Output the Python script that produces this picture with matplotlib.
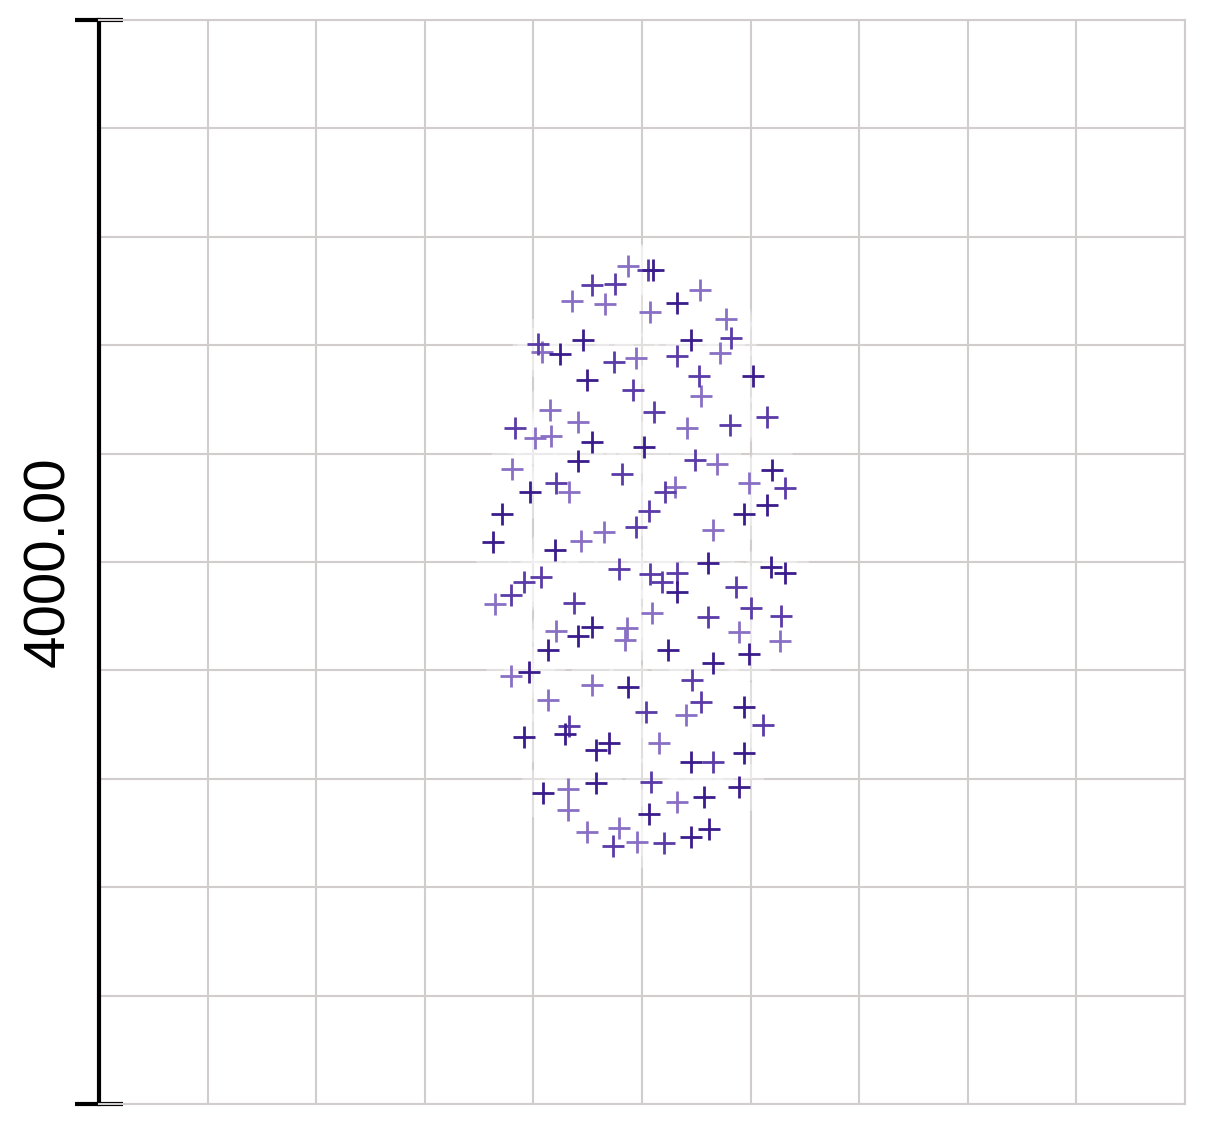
import numpy as np
import matplotlib
matplotlib.use("Agg")
import matplotlib.pyplot as plt
from matplotlib.ticker import MultipleLocator

# scatter values (x in grid units 0-10, y in 0-8000)
x_dark = [4.457, 4.245, 4.494, 4.540, 5.101, 5.322, 5.451, 6.022, 5.018, 4.411,
          3.969, 3.711, 3.628, 4.199, 4.411, 4.540, 4.134, 6.197, 6.151, 5.939,
          5.608, 5.322, 6.188, 6.317, 5.239, 5.985, 3.959, 4.871, 3.913, 4.291,
          4.576, 4.696, 4.088, 4.576, 5.654, 5.939, 5.451, 5.939, 5.571, 5.893,
          5.064, 5.451, 5.617]
y_dark = [5638, 5535, 5343, 4886, 6155, 5911, 5638, 5373, 4849, 4745,
          4517, 4354, 4148, 4089, 3454, 3520, 3351, 4679, 4421, 4354,
          3993, 3779, 3963, 3919, 3351, 3321, 3188, 3077, 2708, 2731,
          2613, 2664, 2295, 2369, 3255, 2930, 2524, 2590, 2266, 2339,
          2140, 1970, 2030]

x_mid = [4.540, 4.751, 4.042, 4.742, 4.917, 3.831, 5.055, 5.820, 5.322, 5.525,
         5.110, 6.151, 5.810, 4.816, 4.208, 4.945, 4.788, 4.070, 3.913, 3.794,
         4.374, 5.488, 6.317, 5.212, 5.064, 5.074, 5.184, 5.322, 5.866, 5.608,
         6.004, 6.280, 4.328, 4.733, 5.460, 5.543, 5.037, 6.114, 5.654, 5.083,
         5.203]
y_mid = [6044, 6052, 5609, 5476, 5269, 4989, 6155, 5653, 5520, 5373,
         5107, 5070, 5011, 4649, 4583, 4258, 3948, 3889, 3852, 3756,
         3697, 4753, 4546, 4517, 4376, 3911, 3852, 3919, 3815, 3594,
         3660, 3601, 2790, 1904, 3129, 2967, 2893, 2797, 2524, 2376,
         1926]

x_light = [4.871, 4.355, 4.659, 4.079, 4.945, 4.153, 4.411, 4.015, 4.162, 5.534,
           5.074, 5.773, 5.718, 5.543, 5.414, 3.803, 4.328, 4.438, 4.650, 3.646,
           4.208, 4.862, 4.843, 5.691, 5.985, 5.304, 5.654, 5.092, 5.893, 6.271,
           3.794, 4.540, 4.134, 4.319, 4.319, 4.494, 4.788, 4.954, 5.405, 5.157,
           5.322]
y_light = [6184, 5926, 5904, 5550, 5505, 5122, 5033, 4915, 4930, 6007,
           5845, 5793, 5542, 5225, 4989, 4686, 4517, 4155, 4221, 3690,
           3491, 3513, 3424, 4723, 4583, 4553, 4236, 3624, 3483, 3417,
           3159, 3092, 2982, 2325, 2170, 2007, 2037, 1934, 2871, 2664,
           2229]

groups = [
    (x_light, y_light, "#8a70c4"),
    (x_mid, y_mid, "#5b3ba8"),
    (x_dark, y_dark, "#3b1c8c"),
]

fig = plt.figure(figsize=(12.08, 11.28), dpi=100)
ax = fig.add_axes([0.082, 0.0213, 0.899, 0.9610])

grid_color = "#d2cdcd"

# soft white halo behind the markers
for xs, ys, _ in groups:
    ax.scatter(xs, ys, s=1400, color="white", alpha=0.35, linewidths=0, zorder=2)

for xs, ys, c in groups:
    ax.plot(xs, ys, linestyle="none", marker="+", markersize=16,
            markeredgewidth=2.0, color=c, zorder=3)

ax.set_xlim(0, 10)
ax.set_ylim(0, 8000)

ax.set_xticks(np.arange(0, 11, 1))
ax.set_yticks([0, 8000])
ax.yaxis.set_minor_locator(MultipleLocator(800))
ax.tick_params(axis="x", length=0, labelbottom=False)
ax.tick_params(axis="y", which="major", direction="inout", length=35, width=3,
               color="black", labelleft=False)
ax.tick_params(axis="y", which="minor", length=0)

ax.grid(True, axis="x", color=grid_color, linewidth=1.5, zorder=0)
ax.grid(True, axis="y", which="both", color=grid_color, linewidth=1.5, zorder=0)
ax.set_axisbelow(True)

for side in ["top", "right", "bottom"]:
    ax.spines[side].set_color(grid_color)
    ax.spines[side].set_linewidth(1.5)
ax.spines["left"].set_color("black")
ax.spines["left"].set_linewidth(3)

ax.set_ylabel("4000.00", fontsize=42, family="Liberation Sans")
ax.yaxis.set_label_coords(-0.021, 0.5)

plt.savefig("out.png", dpi=100)
